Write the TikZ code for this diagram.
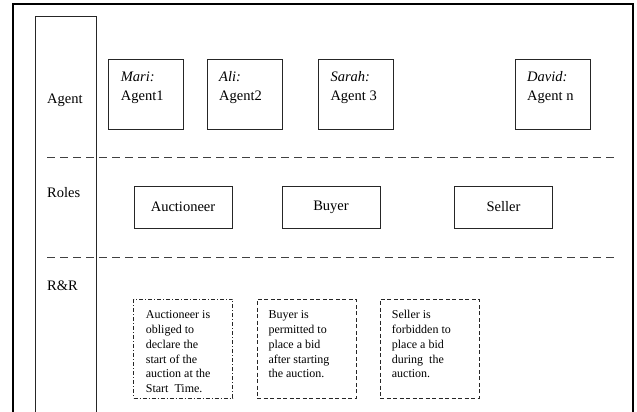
\documentclass[tikz,border=0pt]{standalone}
\usepackage{fontspec}
\setmainfont{Liberation Serif}
\usetikzlibrary{calc}
\begin{document}
\begin{tikzpicture}[x=1pt,y=1pt,
  linecol/.style={draw=black!85, line width=0.8pt},
  agentbox/.style={linecol, minimum width=75pt, minimum height=70pt, inner sep=0pt},
  rolebox/.style={linecol, minimum width=98pt, minimum height=42pt, inner sep=0pt, font=\fontsize{14.5}{17}\selectfont},
  rrbox/.style={draw=black!85, line width=0.8pt, minimum width=99pt, minimum height=99pt, inner sep=0pt},
  rrdash/.style={dash pattern=on 4pt off 2.5pt},
  rrdashdot/.style={dash pattern=on 4pt off 2pt on 1pt off 2pt},
  sep/.style={draw=black!75, line width=0.9pt, dash pattern=on 8pt off 5pt},
  agtext/.style={anchor=base west, align=left, inner sep=0pt, font=\fontsize{14.5}{18.3}\selectfont},
  rrtext/.style={anchor=base west, align=left, inner sep=0pt, font=\fontsize{12}{14.9}\selectfont},
  lbl/.style={anchor=west, inner sep=0pt, font=\fontsize{14.5}{17}\selectfont}]
\useasboundingbox (0,0) rectangle (637,-412);
% outer frame
\draw[draw=black, line width=1.3pt] (13,-412) -- (13,-4) -- (633,-4) -- (633,-412);
% left column
\draw[linecol] (35,-412) -- (35,-16) -- (96,-16) -- (96,-412);
% separators
\coordinate (s1a) at (47,-157); \coordinate (s1b) at (615,-157);
\coordinate (s2a) at (47,-257); \coordinate (s2b) at (615,-257);
\draw[sep] (s1a) -- (s1b);
\draw[sep] (s2a) -- (s2b);
% row labels
\node[lbl] (lagent) at (47,-100) {Agent};
\node[lbl] (lroles) at (47,-193) {Roles};
\node[lbl] (lrr) at (47,-286) {R\&R};
% agent boxes
\node[agentbox] (mari) at (145.5,-94) {};
\node[agentbox] (ali) at (244.5,-94) {};
\node[agentbox] (sarah) at (355.5,-94) {};
\node[agentbox] (david) at (553,-94) {};
\node[agtext] (tmari) at (120.7,-100) {\textit{Mari:}\\Agent1};
\node[agtext] (tali) at (219,-100) {\textit{Ali:}\\Agent2};
\node[agtext] (tsarah) at (330.3,-100) {\textit{Sarah:}\\Agent 3};
\node[agtext] (tdavid) at (527,-100) {\textit{David:}\\Agent n};
% roles
\node[rolebox] (auc) at (183,-207) {Auctioneer};
\node[rolebox] (buy) at (331,-207) {Buyer};
\node[rolebox] (sel) at (503.5,-207) {Seller};
% R&R boxes
\node[rrbox, rrdashdot] (rauc) at (183,-348.5) {};
\node[rrbox, rrdash] (rbuy) at (306.5,-348.5) {};
\node[rrbox, rrdash] (rsel) at (429.5,-348.5) {};
\node[rrtext] (trauc) at (145.7,-392.8) {Auctioneer is\\obliged to\\declare the\\start of the\\auction at the\\Start~ Time.};
\node[rrtext] (trbuy) at (268.3,-377.9) {Buyer is\\permitted to\\place a bid\\after starting\\the auction.};
\node[rrtext] (trsel) at (391.7,-377.9) {Seller is\\forbidden to\\place a bid\\during~ the\\auction.};
\end{tikzpicture}
\end{document}
